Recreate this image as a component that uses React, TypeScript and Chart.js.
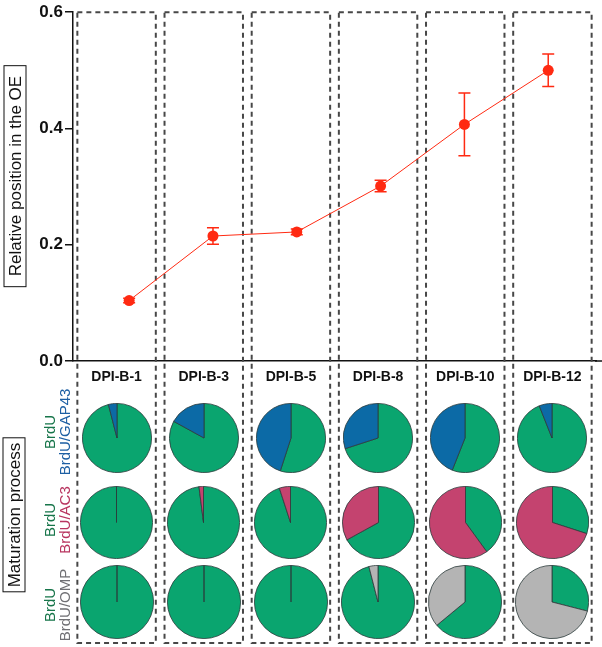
import React, { useEffect, useRef } from "react";
import { Chart, registerables } from "chart.js";

Chart.register(...registerables);

// ---------- data ----------
const categories = ["DPI-B-1", "DPI-B-3", "DPI-B-5", "DPI-B-8", "DPI-B-10", "DPI-B-12"];
const positionMean = [0.104, 0.215, 0.222, 0.301, 0.407, 0.5];
const positionErr = [0.004, 0.014, 0.005, 0.01, 0.054, 0.028];
const yTicks = [0, 0.2, 0.4, 0.6];

// share (%) of double-labelled cells in each pie; remainder is BrdU only
const gap43Share = [4, 17, 45, 30, 44, 6];
const ac3Share = [0, 2, 5, 33, 60, 70];
const ompShare = [0, 0, 0, 4, 36, 71];

const rowMarkers = ["BrdU/GAP43", "BrdU/AC3", "BrdU/OMP"];
const yTitle = "Relative position in the OE";
const pieTitle = "Maturation process";

// ---------- style / layout ----------
const W = 602;
const H = 647;
const CHART_LEFT = 73;
const CHART_RIGHT = 596;
const CHART_TOP = 9;
const CHART_BOTTOM = 361;
const FONT = '"Liberation Sans", Arial, Helvetica, sans-serif';
const RED = "#ff2a12";
const GREEN = "#0aa56f";
const PIE_BORDER = "#2c3b3b";
const rowColors = ["#0c6aa6", "#c4436f", "#b4b4b4"];
const rowTextColors = ["#1d5fa3", "#b8345f", "#707074"];
const GREEN_TEXT = "#17754a";
const rowCenters = [438, 522, 602];
const rowLabelCenters = [432, 520, 605];
const rowSizes = [70, 73, 74];
const colW = (CHART_RIGHT - CHART_LEFT) / categories.length;
const colCenter = (i: number) => CHART_LEFT + colW * (i + 0.5);

const boxesPlugin = {
  id: "dashedBoxes",
  beforeDatasetsDraw(chart: any) {
    const { ctx } = chart;
    const xs = chart.scales.x;
    const ys = chart.scales.y;
    const step = xs.getPixelForValue(1) - xs.getPixelForValue(0);
    const half = step * 0.45;
    const top = ys.getPixelForValue(0.6);
    const bottom = chart.height - 4;
    ctx.save();
    ctx.setLineDash([5, 4]);
    ctx.lineWidth = 2;
    ctx.strokeStyle = "#474747";
    categories.forEach((_, i) => {
      const cx = xs.getPixelForValue(i);
      ctx.strokeRect(cx - half, top, 2 * half, bottom - top);
    });
    ctx.restore();
  },
  afterDraw(chart: any) {
    const { ctx, chartArea } = chart;
    ctx.save();
    ctx.strokeStyle = "#111";
    ctx.lineWidth = 1.5;
    ctx.beginPath();
    ctx.moveTo(chartArea.right - 1, chartArea.bottom);
    ctx.lineTo(chart.width, chartArea.bottom);
    ctx.stroke();
    ctx.restore();
  },
};

const errorBarPlugin = {
  id: "errorBars",
  afterDatasetsDraw(chart: any) {
    const { ctx } = chart;
    const xs = chart.scales.xp;
    const ys = chart.scales.y;
    ctx.save();
    ctx.strokeStyle = RED;
    ctx.lineWidth = 1.5;
    positionMean.forEach((v, i) => {
      const px = xs.getPixelForValue(i);
      const yHi = ys.getPixelForValue(v + positionErr[i]);
      const yLo = ys.getPixelForValue(v - positionErr[i]);
      ctx.beginPath();
      ctx.moveTo(px, yHi);
      ctx.lineTo(px, yLo);
      ctx.moveTo(px - 6, yHi);
      ctx.lineTo(px + 6, yHi);
      ctx.moveTo(px - 6, yLo);
      ctx.lineTo(px + 6, yLo);
      ctx.stroke();
    });
    ctx.restore();
  },
};

function MainChart() {
  const ref = useRef<HTMLCanvasElement | null>(null);
  useEffect(() => {
    if (!ref.current) return;
    const chart = new Chart(ref.current, {
      type: "line",
      data: {
        labels: categories,
        datasets: [
          {
            data: positionMean.map((v, i) => ({ x: i, y: v })),
            xAxisID: "xp",
            yAxisID: "y",
            borderColor: RED,
            backgroundColor: RED,
            borderWidth: 1,
            pointRadius: 5.5,
            pointBorderWidth: 0,
            pointHoverRadius: 5.5,
            tension: 0,
          },
        ],
      },
      options: {
        responsive: false,
        animation: false,
        events: [],
        layout: { padding: { left: 0, right: W - CHART_RIGHT, top: CHART_TOP, bottom: 0 } },
        plugins: { legend: { display: false }, tooltip: { enabled: false } },
        scales: {
          x: {
            type: "category",
            position: "bottom",
            offset: true,
            grid: { display: false, drawTicks: false },
            border: { display: true, color: "#111", width: 1.5 },
            ticks: {
              padding: 8,
              maxRotation: 0,
              autoSkip: false,
              color: "#111",
              font: { family: FONT, size: 14, weight: "bold" },
            },
            afterFit: (s: any) => {
              s.height = H - CHART_BOTTOM;
            },
          },
          xp: { type: "linear", display: false, min: -0.67, max: 5.57 },
          y: {
            min: 0,
            max: 0.6,
            afterBuildTicks: (s: any) => {
              s.ticks = yTicks.map((v) => ({ value: v }));
            },
            ticks: {
              callback: (v: any) => Number(v).toFixed(1),
              color: "#111",
              padding: 2,
              font: { family: FONT, size: 17, weight: "bold" },
            },
            grid: { drawOnChartArea: false, drawTicks: true, tickLength: 8, color: "#111", lineWidth: 1.5 },
            border: { color: "#111", width: 1.5 },
            afterFit: (s: any) => {
              s.width = CHART_LEFT;
            },
          },
        },
      } as any,
      plugins: [boxesPlugin, errorBarPlugin],
    });
    return () => chart.destroy();
  }, []);
  return (
    <canvas
      ref={ref}
      width={W}
      height={H}
      style={{ position: "absolute", left: 0, top: 0, width: W, height: H }}
    />
  );
}

function Pie({ share, color, size, cx, cy }: { share: number; color: string; size: number; cx: number; cy: number }) {
  const ref = useRef<HTMLCanvasElement | null>(null);
  useEffect(() => {
    if (!ref.current) return;
    const chart = new Chart(ref.current, {
      type: "pie",
      data: {
        labels: ["BrdU", "double"],
        datasets: [
          {
            data: [100 - share, share],
            backgroundColor: [GREEN, color],
            borderColor: PIE_BORDER,
            borderWidth: 0.8,
          },
        ],
      },
      options: {
        responsive: false,
        animation: false,
        events: [],
        layout: { padding: 0 },
        plugins: { legend: { display: false }, tooltip: { enabled: false } },
      } as any,
    });
    return () => chart.destroy();
  }, [share, color, size]);
  return (
    <canvas
      ref={ref}
      width={size}
      height={size}
      style={{ position: "absolute", left: cx - size / 2, top: cy - size / 2, width: size, height: size }}
    />
  );
}

export default function App() {
  const shares = [gap43Share, ac3Share, ompShare];
  return (
    <div style={{ position: "absolute", left: 0, top: 0, width: W, height: H, background: "#fff", fontFamily: FONT }}>
      <MainChart />
      {shares.map((row, r) =>
        row.map((s, c) => (
          <Pie key={`${r}-${c}`} share={s} color={rowColors[r]} size={rowSizes[r]} cx={colCenter(c)} cy={rowCenters[r]} />
        ))
      )}
      <div
        style={{
          position: "absolute",
          left: 15,
          top: 176,
          transform: "translate(-50%, -50%) rotate(-90deg)",
          border: "1.5px solid #111",
          padding: "1px 10px",
          whiteSpace: "nowrap",
          fontSize: 17,
          lineHeight: "19px",
          color: "#111",
        }}
      >
        {yTitle}
      </div>
      <div
        style={{
          position: "absolute",
          left: 14,
          top: 515,
          transform: "translate(-50%, -50%) rotate(-90deg)",
          border: "1.5px solid #111",
          padding: "1px 4px",
          whiteSpace: "nowrap",
          fontSize: 17,
          lineHeight: "19px",
          color: "#111",
        }}
      >
        {pieTitle}
      </div>
      {rowMarkers.map((m, r) => (
        <div
          key={m}
          style={{
            position: "absolute",
            left: 57,
            top: rowLabelCenters[r],
            transform: "translate(-50%, -50%) rotate(-90deg)",
            whiteSpace: "nowrap",
            textAlign: "center",
            fontSize: 15,
            lineHeight: "15px",
          }}
        >
          <div style={{ color: GREEN_TEXT }}>BrdU</div>
          <div style={{ color: rowTextColors[r] }}>{m}</div>
        </div>
      ))}
    </div>
  );
}
